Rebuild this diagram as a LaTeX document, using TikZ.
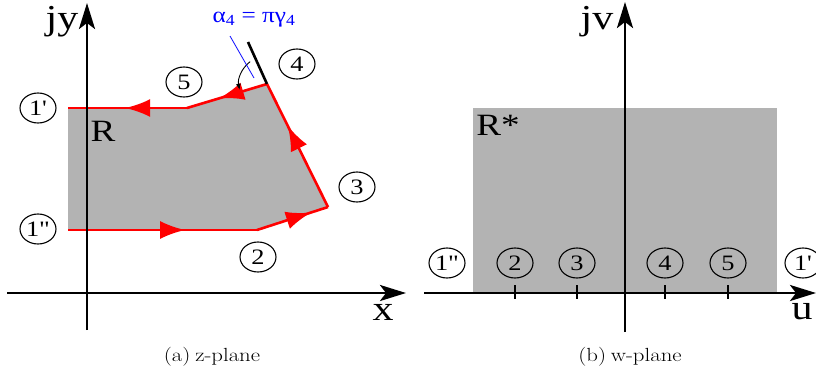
\documentclass[tikz,border=0pt]{standalone}
\usepackage{fontspec}
\usepackage{tikz}
\usetikzlibrary{arrows.meta,decorations.markings,shapes.geometric}
\newfontfamily\lblfont{Liberation Serif}
\definecolor{RojoBorde}{RGB}{255,0,0}
\definecolor{AzulAngulo}{RGB}{0,0,255}
\definecolor{GrisRegion}{RGB}{179,179,179}
\newcommand{\ancho}[1]{\scalebox{1.2}[1]{#1}}

\tikzset{
  eje/.style={line width=2.8pt,-{Stealth[length=26pt,width=16pt,inset=6pt]}},
  borde/.style={RojoBorde,line width=2.6pt,postaction={decorate},
    decoration={markings,mark=at position #1 with {\arrow{Latex[length=25pt,width=18pt]}}}},
  punto/.style={ellipse,draw,line width=1.1pt,minimum width=36pt,minimum height=30pt,inner sep=0pt,
    font=\lblfont\fontsize{22}{22}\selectfont},
  rotulo/.style={font=\lblfont\fontsize{35}{35}\selectfont,inner sep=0pt},
  region/.style={font=\lblfont\fontsize{31}{31}\selectfont,inner sep=0pt},
  leyenda/.style={font=\fontsize{19}{19}\selectfont,inner sep=0pt}
}

\begin{document}
\begin{tikzpicture}[x=1pt,y=-1pt]
  \useasboundingbox (0,0) rectangle (816,373);
  % z-plane
  \coordinate (c1a) at (68,108);
  \coordinate (c5) at (187,108);
  \coordinate (c4) at (267,84);
  \coordinate (c3) at (328,207);
  \coordinate (c2) at (257,230);
  \coordinate (c1b) at (68,230);
  \fill[GrisRegion] (c1a) -- (c5) -- (c4) -- (c3) -- (c2) -- (c1b) -- cycle;
  \draw[borde=0.62] (c1b) -- (c2);
  \draw[borde=0.76] (c2) -- (c3);
  \draw[borde=0.66] (c3) -- (c4);
  \draw[borde=0.6] (c4) -- (c5);
  \draw[borde=0.52] (c5) -- (c1a);
  \coordinate (c4ext) at (248,42);
  \draw[line width=2.6pt] (c4) -- (c4ext);
  \draw[line width=0.9pt,-{Latex[length=6pt,width=5pt]}] (c4) ++(-127:28) arc[start angle=-127,end angle=-192,radius=28];
  \draw[eje] (7,293) -- (406,293);
  \draw[eje] (87,330) -- (87,3);
  \node[rotulo] (jy) at (62,22) {\ancho{jy}};
  \node[rotulo] (xlab) at (383,312) {\ancho{x}};
  \node[region] (rz) at (103,131) {\ancho{R}};
  \node[font=\lblfont\fontsize{22}{22}\selectfont,text=AzulAngulo,inner sep=0pt] (alfa) at (254,20) {\scalebox{1.15}[1]{α\textsubscript{4} = πγ\textsubscript{4}}};
  \coordinate (alfatail) at (230,36);
  \coordinate (alfahead) at (254,78);
  \draw[AzulAngulo,line width=0.8pt] (alfatail) -- (alfahead);
  \node[punto] (z1p) at (38,108) {\ancho{1\textquotesingle}};
  \node[punto] (z1pp) at (38,229) {\ancho{1"}};
  \node[punto] (z2) at (258,257) {\ancho{2}};
  \node[punto] (z3) at (357,187) {\ancho{3}};
  \node[punto] (z4) at (297,64) {\ancho{4}};
  \node[punto] (z5) at (184,82) {\ancho{5}};
  \node[leyenda] (capa) at (212,357) {\scalebox{1.2}[1]{(a)\hspace{4pt}z-plane}};
  % w-plane
  \fill[GrisRegion] (473,108) rectangle (777,293);
  \draw[eje] (424,293) -- (816,293);
  \draw[eje] (625,332) -- (625,2);
  \foreach \u in {515,577,665,728}
    \draw[line width=1.6pt] (\u,285) -- (\u,299);
  \node[rotulo] (jv) at (597,22) {\ancho{jv}};
  \node[rotulo] (ulab) at (802,312) {\ancho{u}};
  \node[region] (rw) at (498,125) {\ancho{R*}};
  \node[punto] (w1pp) at (447,263) {\ancho{1"}};
  \node[punto] (w2) at (515,263) {\ancho{2}};
  \node[punto] (w3) at (577,263) {\ancho{3}};
  \node[punto] (w4) at (665,263) {\ancho{4}};
  \node[punto] (w5) at (728,263) {\ancho{5}};
  \node[punto] (w1p) at (803,263) {\ancho{1\textquotesingle}};
  \node[leyenda] (capb) at (630,357) {\scalebox{1.2}[1]{(b)\hspace{4pt}w-plane}};
\end{tikzpicture}
\end{document}
